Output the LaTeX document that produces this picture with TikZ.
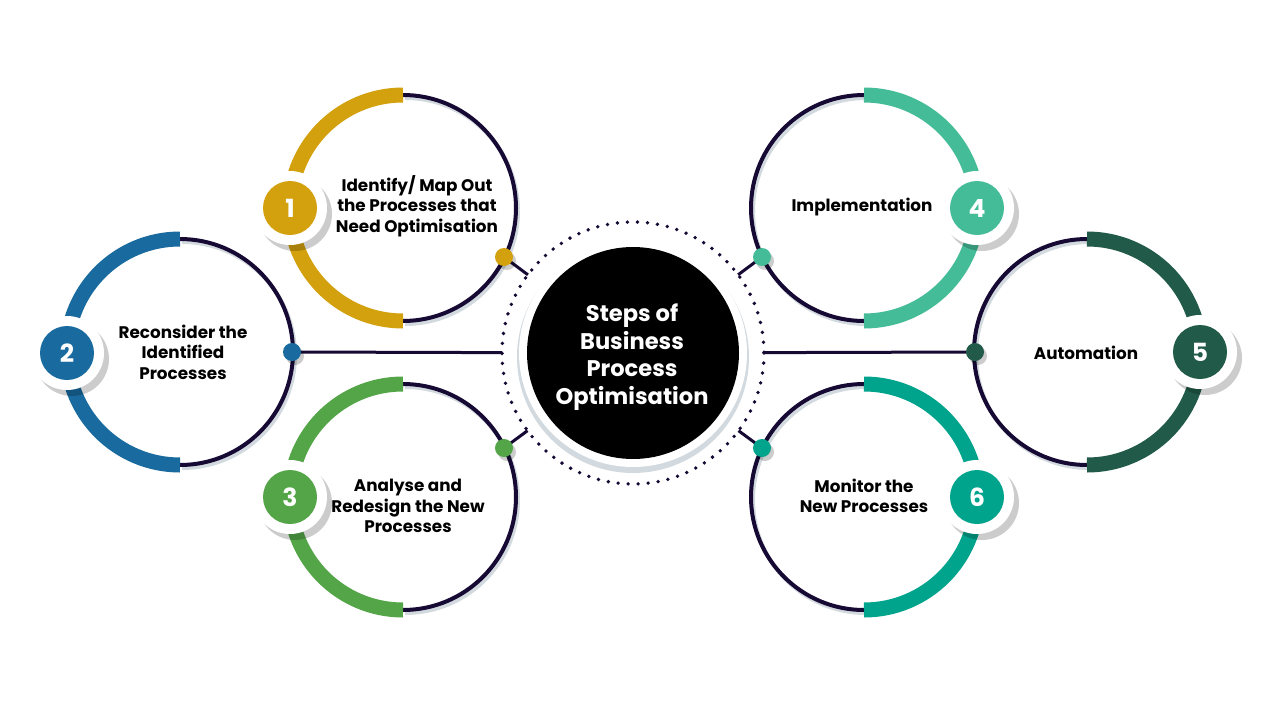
\documentclass[tikz,border=0pt]{standalone}
\usepackage{fontspec}
\setmainfont{Poppins}
\usetikzlibrary{calc}
\definecolor{navy}{HTML}{160A34}
\definecolor{shgray}{HTML}{D2DADF}
\definecolor{cgold}{HTML}{D3A10D}
\definecolor{cblue}{HTML}{186A9F}
\definecolor{cgreen}{HTML}{53A548}
\definecolor{cmint}{HTML}{45BC98}
\definecolor{cdark}{HTML}{215A48}
\definecolor{cteal}{HTML}{00A38B}
\tikzset{
  darkarc/.style={draw=navy, line width=4pt},
  darkshadow/.style={draw=shgray, line width=4pt},
  colarc/.style={line width=15pt},
  conn/.style={draw=navy, line width=3pt},
  dotnode/.style={circle, minimum size=18pt, inner sep=0pt},
  dotshadow/.style={fill=black, opacity=0.2},
  badgeshadow/.style={fill=black, opacity=0.2},
  badgewhite/.style={circle, fill=white, minimum size=74pt, inner sep=0pt},
  badge/.style={circle, minimum size=54pt, inner sep=0pt, text=white, font=\bfseries\fontsize{25}{25}\selectfont},
  steptext/.style={font=\bfseries\fontsize{16.8}{20.5}\selectfont, align=center, text=black, inner sep=0pt},
  centertext/.style={font=\bfseries\fontsize{22.6}{27.5}\selectfont, align=center, text=white, inner sep=0pt},
}
\newcommand\leftring[2]{% center, colour
  \draw[darkshadow] ($(#1)+(2,3)+(0,-113)$) arc[start angle=-90, end angle=90, radius=113];
  \draw[darkarc] ($(#1)+(0,-113)$) arc[start angle=-90, end angle=90, radius=113];
  \draw[colarc, draw=#2] ($(#1)+(0,-113)$) arc[start angle=270, end angle=90, radius=113];
}
\newcommand\rightring[2]{%
  \draw[darkshadow] ($(#1)+(2,3)+(0,-113)$) arc[start angle=270, end angle=90, radius=113];
  \draw[darkarc] ($(#1)+(0,-113)$) arc[start angle=270, end angle=90, radius=113];
  \draw[colarc, draw=#2] ($(#1)+(0,-113)$) arc[start angle=-90, end angle=90, radius=113];
}
\begin{document}
\begin{tikzpicture}[x=1pt, y=-1pt]
\useasboundingbox[fill=white] (0,0) rectangle (1280,720);
% centres
\coordinate (c1) at (403,208);
\coordinate (c2) at (180,352);
\coordinate (c3) at (403,497);
\coordinate (c4) at (864,208);
\coordinate (c5) at (1087,352);
\coordinate (c6) at (864,497);
\coordinate (cc) at (633,353);
% rings
\leftring{c1}{cgold}
\leftring{c2}{cblue}
\leftring{c3}{cgreen}
\rightring{c4}{cmint}
\rightring{c5}{cdark}
\rightring{c6}{cteal}
% central hub
\fill[shgray] ($(cc)+(0,4)$) circle[radius=116];
\fill[white] (cc) circle[radius=114];
\node[circle, fill=black, minimum size=212pt, inner sep=0pt] (hub) at (cc) {};
\draw[navy, line width=3.8pt, line cap=round, dash pattern=on 0pt off 10.03pt] (cc) circle[radius=131];
\node[centertext] (hubtext) at (632,357) {Steps of\\Business\\Process\\Optimisation};
% dots positions
\coordinate (p1) at (504,257);
\coordinate (p2) at (292,352);
\coordinate (p3) at (504,448);
\coordinate (p4) at (762,257);
\coordinate (p5) at (975,352);
\coordinate (p6) at (762,448);
\foreach \i in {1,...,6}{\coordinate (e\i) at ($(cc)!131pt!(p\i)$);}
\foreach \i in {1,...,6}{\draw[conn] (p\i) -- (e\i);}
\foreach \i in {1,...,6}{\fill[dotshadow] ($(p\i)+(3,4)$) circle[radius=9];}
\node[dotnode, fill=cgold] (d1) at (p1) {};
\node[dotnode, fill=cblue] (d2) at (p2) {};
\node[dotnode, fill=cgreen] (d3) at (p3) {};
\node[dotnode, fill=cmint] (d4) at (p4) {};
\node[dotnode, fill=cdark] (d5) at (p5) {};
\node[dotnode, fill=cteal] (d6) at (p6) {};
% badges
\coordinate (b1) at (290,208);
\coordinate (b2) at (67,353);
\coordinate (b3) at (290,497);
\coordinate (b4) at (977,208);
\coordinate (b5) at (1200,352);
\coordinate (b6) at (977,497);
\foreach \i in {1,...,6}{\fill[badgeshadow] ($(b\i)+(5,6)$) circle[radius=37];}
\foreach \i in {1,...,6}{\node[badgewhite] (w\i) at (b\i) {};}
\node[badge, fill=cgold] (n1) at (b1) {1};
\node[badge, fill=cblue] (n2) at (b2) {2};
\node[badge, fill=cgreen] (n3) at (b3) {3};
\node[badge, fill=cmint] (n4) at (b4) {4};
\node[badge, fill=cdark] (n5) at (b5) {5};
\node[badge, fill=cteal] (n6) at (b6) {6};
% texts
\node[steptext] (t1) at (417,206) {Identify/ Map Out\\the Processes that\\Need Optimisation};
\node[steptext] (t2) at (183,352) {Reconsider the\\Identified\\Processes};
\node[steptext] (t3) at (408,506) {Analyse and\\Redesign the New\\Processes};
\node[steptext] (t4) at (862,207) {Implementation};
\node[steptext] (t5) at (1086,353) {Automation};
\node[steptext] (t6) at (864,496) {Monitor the\\New Processes};
\end{tikzpicture}
\end{document}
